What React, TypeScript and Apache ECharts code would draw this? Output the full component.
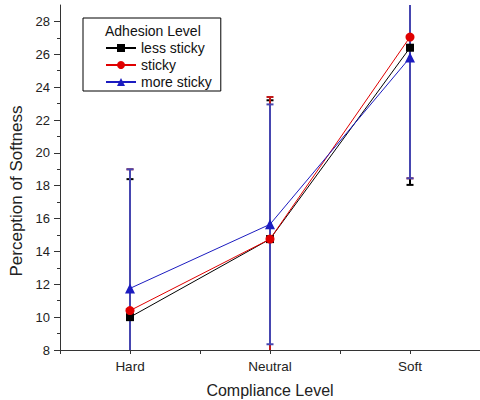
import React, { useEffect, useRef } from 'react';
import * as echarts from 'echarts';

const categories = ['Hard', 'Neutral', 'Soft'];
const seriesNames = ['less sticky', 'sticky', 'more sticky'];
const lessSticky = [10.0, 14.75, 26.4];
const lessStickyErr = [8.4, 8.45, 8.35];
const sticky = [10.4, 14.75, 27.05];
const stickyErr = [8.6, 8.65, 8.6];
const moreSticky = [11.75, 15.65, 25.8];
const moreStickyErr = [7.25, 7.3, 7.35];
const yMajorTicks = [8, 10, 12, 14, 16, 18, 20, 22, 24, 26, 28];
const yMinorTicks = [9, 11, 13, 15, 17, 19, 21, 23, 25, 27];

const FONT = '"Liberation Sans", Arial, sans-serif';
const colors = ['#000000', '#e00000', '#1c1cc0'];
const errColors = ['#000000', '#c01818', '#4646b0'];
const symbols = ['rect', 'circle', 'triangle'];
const symbolSizes = [8, 9, 10];

const makeRender = (color: string) => (params: any, api: any) => {
  const x = api.value(0);
  const y = api.value(1);
  const e = api.value(2);
  const cs = params.coordSys;
  const top = api.coord([x, y + e]);
  const bot = api.coord([x, y - e]);
  const yMin = cs.y;
  const yMax = cs.y + cs.height;
  const px = Math.round(top[0]);
  const capTop = top[1] >= yMin;
  const capBot = bot[1] <= yMax;
  const y1 = Math.max(top[1], yMin);
  const y2 = Math.min(bot[1], yMax);
  const children: any[] = [
    { type: 'line', shape: { x1: px, y1, x2: px, y2 }, style: { stroke: color, lineWidth: 2 } },
  ];
  if (capTop) children.push({ type: 'line', shape: { x1: px - 3.5, y1, x2: px + 3.5, y2: y1 }, style: { stroke: color, lineWidth: 2 } });
  if (capBot) children.push({ type: 'line', shape: { x1: px - 3.5, y1: y2, x2: px + 3.5, y2 }, style: { stroke: color, lineWidth: 2 } });
  return { type: 'group', children };
};

export default function App() {
  const ref = useRef<HTMLDivElement>(null);
  useEffect(() => {
    if (!ref.current) return;
    const chart = echarts.init(ref.current, null, { renderer: 'svg' });
    const means = [lessSticky, sticky, moreSticky];
    const errs = [lessStickyErr, stickyErr, moreStickyErr];
    const errSeries = means.map((m, i) => ({
      type: 'custom',
      name: seriesNames[i] + ' error',
      renderItem: makeRender(errColors[i]),
      data: m.map((v, j) => [j, v, errs[i][j]]),
      z: 1,
      silent: true,
    }));
    const lineSeries = means.map((m, i) => ({
      type: 'line',
      name: seriesNames[i],
      data: m.map((v, j) => [j, v]),
      symbol: symbols[i],
      symbolSize: symbolSizes[i],
      showAllSymbol: true,
      lineStyle: { color: colors[i], width: 1 },
      itemStyle: { color: colors[i] },
      z: 3,
    }));
    const axisLabelStyle = { color: '#222', fontSize: 13, fontFamily: FONT };
    chart.setOption({
      animation: false,
      title: {
        text: 'Adhesion Level',
        left: 105,
        top: 24,
        padding: 0,
        textStyle: { fontSize: 14, fontWeight: 'normal', color: '#111', fontFamily: FONT },
      },
      legend: {
        data: seriesNames,
        orient: 'vertical',
        left: 83,
        top: 18,
        padding: [23, 9, 2, 22],
        itemGap: 3,
        itemWidth: 30,
        itemHeight: 10,
        borderColor: '#000',
        borderWidth: 1,
        borderRadius: 0,
        textStyle: { fontSize: 14, color: '#111', fontFamily: FONT },
      },
      grid: { left: 60, right: 0, top: 5, bottom: 50, outerBoundsMode: 'none', containLabel: false },
      xAxis: {
        type: 'value',
        min: -0.5,
        max: 2.5,
        interval: 0.5,
        name: 'Compliance Level',
        nameLocation: 'middle',
        nameGap: 32,
        nameTextStyle: { fontSize: 16, color: '#222', fontFamily: FONT },
        axisLine: { show: true, onZero: false, lineStyle: { color: '#333', width: 1 } },
        axisTick: { show: true, length: 4, lineStyle: { color: '#333' } },
        splitLine: { show: false },
        axisLabel: {
          ...axisLabelStyle,
          fontSize: 13.5,
          margin: 9,
          formatter: (v: number) => (Number.isInteger(v) && categories[v] !== undefined ? categories[v] : ''),
        },
      },
      yAxis: [
        {
          type: 'value',
          min: 8,
          max: 29,
          interval: 1,
          name: 'Perception of Softness',
          nameLocation: 'middle',
          nameGap: 34,
          nameTextStyle: { fontSize: 17, color: '#222', fontFamily: FONT, padding: [0, 27, 0, 0] },
          axisLine: { show: true, onZero: false, lineStyle: { color: '#333', width: 1 } },
          axisTick: { show: true, length: 6, customValues: yMajorTicks, lineStyle: { color: '#333' } },
          axisLabel: { ...axisLabelStyle, margin: 10, customValues: yMajorTicks },
          splitLine: { show: false },
        },
        {
          type: 'value',
          min: 8,
          max: 29,
          interval: 1,
          position: 'left',
          axisLine: { show: false, onZero: false },
          axisTick: { show: true, length: 3, customValues: yMinorTicks, lineStyle: { color: '#333' } },
          axisLabel: { show: false },
          splitLine: { show: false },
        },
      ],
      series: [...errSeries, ...lineSeries],
    });
    return () => chart.dispose();
  }, []);
  return <div ref={ref} style={{ position: 'fixed', left: 0, top: 0, width: 480, height: 400, background: '#fff' }} />;
}
